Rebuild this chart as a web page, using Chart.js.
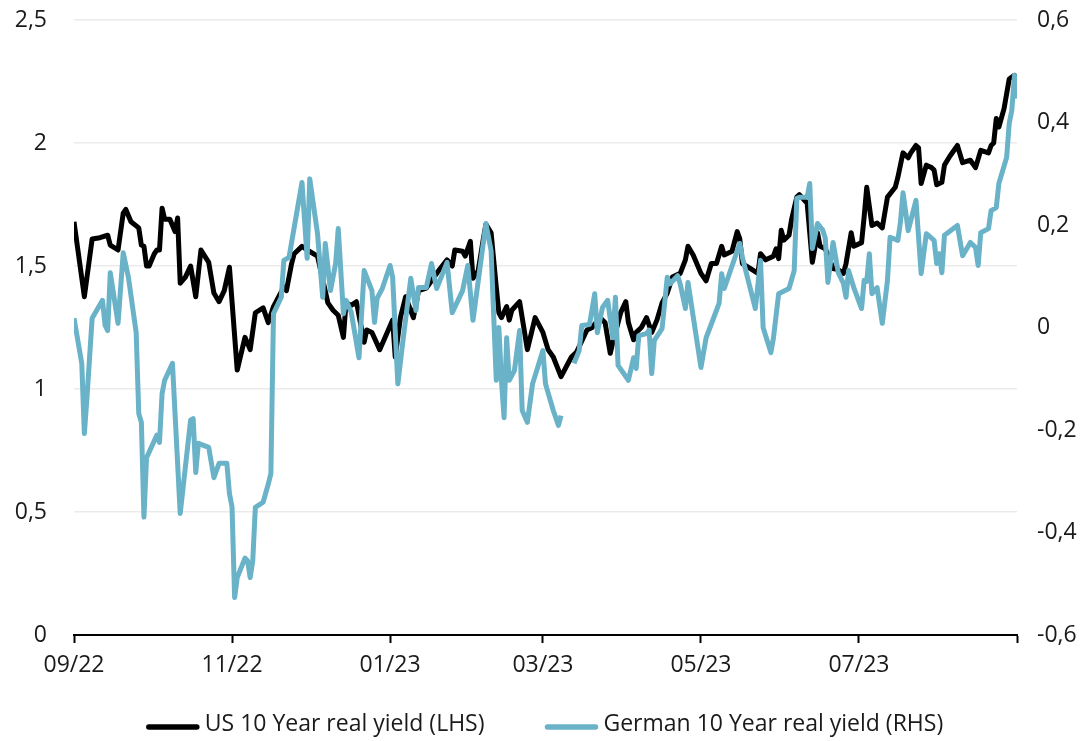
<!DOCTYPE html>
<html><head><meta charset="utf-8">
<script src="https://cdn.jsdelivr.net/npm/chart.js@4/dist/chart.umd.min.js"></script>
<style>html,body{margin:0;padding:0;background:#fff;overflow:hidden}</style>
</head><body>
<canvas id="c" width="1089" height="741"></canvas>
<script>
// x values are days since 1 Sep 2022
const tickDays = [0, 61, 122, 181, 242, 303, 364];
const tickLabels = ['09/22', '11/22', '01/23', '03/23', '05/23', '07/23', ''];
const seriesNames = ['US 10 Year real yield (LHS)', 'German 10 Year real yield (RHS)'];

const usDays = [0,4,7,10,13,14,17,19,20,22,25,26,27,28,29,31,32,33,34,35,37,39,40,41,43,45,47,49,52,54,56,58,60,63,66,68,70,73,75,77,81,82,84,85,88,90,94,98,100,102,104,105,107,109,112,113,115,118,123,124,126,128,131,133,136,139,141,144,146,147,150,151,153,154,156,158,159,161,163,164,165,167,168,169,172,175,178,181,183,185,188,192,194,198,200,203,205,207,208,211,213,214,216,217,219,221,223,225,227,229,231,234,236,237,239,242,244,246,248,250,251,254,256,257,258,261,264,265,267,270,271,272,273,274,276,277,279,280,283,284,285,287,288,290,293,295,297,298,300,301,304,305,306,308,310,312,314,317,318,320,322,323,325,326,327,329,331,332,333,335,336,338,341,343,346,348,350,353,354,355,356,357,359,361,363,364];
const usYield = [1.68,1.375,1.61,1.615,1.625,1.585,1.565,1.715,1.73,1.68,1.655,1.585,1.58,1.50,1.50,1.55,1.565,1.565,1.735,1.69,1.69,1.64,1.695,1.43,1.455,1.50,1.375,1.565,1.515,1.39,1.355,1.40,1.495,1.077,1.21,1.16,1.31,1.33,1.27,1.335,1.415,1.40,1.51,1.55,1.58,1.565,1.54,1.35,1.32,1.30,1.21,1.35,1.34,1.355,1.19,1.24,1.23,1.16,1.28,1.13,1.29,1.375,1.29,1.40,1.41,1.455,1.485,1.525,1.50,1.565,1.56,1.54,1.60,1.45,1.48,1.61,1.67,1.635,1.415,1.31,1.29,1.335,1.28,1.32,1.355,1.16,1.29,1.23,1.16,1.13,1.05,1.13,1.15,1.24,1.25,1.29,1.27,1.145,1.19,1.31,1.355,1.27,1.20,1.23,1.25,1.29,1.23,1.28,1.35,1.39,1.455,1.47,1.525,1.58,1.545,1.47,1.44,1.51,1.51,1.58,1.545,1.56,1.64,1.61,1.51,1.49,1.47,1.55,1.525,1.54,1.57,1.53,1.645,1.605,1.625,1.69,1.78,1.79,1.755,1.635,1.515,1.635,1.58,1.57,1.49,1.485,1.47,1.51,1.635,1.58,1.595,1.70,1.82,1.665,1.675,1.655,1.78,1.82,1.86,1.96,1.94,1.96,1.99,1.98,1.835,1.91,1.90,1.89,1.83,1.84,1.91,1.945,1.99,1.92,1.93,1.90,1.97,1.96,1.99,2.00,2.10,2.065,2.14,2.26,2.275,2.23];

const deDays = [0,3,4,5,7,11,12,13,14,17,19,21,24,25,26,27,28,32,33,34,35,38,41,45,46,47,48,52,54,56,59,60,61,62,63,66,67,68,69,70,73,75,76,77,80,81,83,88,90,91,94,96,97,99,101,102,104,105,107,110,112,115,116,117,119,122,123,125,127,130,132,133,136,138,140,144,146,150,152,154,159,161,163,164,165,166,167,168,170,172,173,175,177,181,182,185,187,188,190,193,195,196,199,201,202,204,206,208,209,210,214,216,217,218,221,222,223,224,227,229,230,233,234,236,237,242,244,247,249,250,251,257,258,263,265,266,269,270,272,276,278,279,280,283,284,285,287,289,290,291,293,294,295,297,298,299,301,304,305,306,307,308,310,312,314,315,318,319,320,322,325,327,329,332,333,334,335,336,341,343,346,348,349,350,353,354,356,357,360,361,362,363,364];
const deYield = [0.018,-0.07,-0.207,-0.137,0.018,0.053,0.004,-0.006,0.107,0.008,0.146,0.098,-0.01,-0.168,-0.185,-0.37,-0.254,-0.21,-0.224,-0.129,-0.103,-0.07,-0.363,-0.181,-0.178,-0.283,-0.226,-0.234,-0.293,-0.265,-0.265,-0.324,-0.35,-0.527,-0.488,-0.45,-0.455,-0.488,-0.455,-0.351,-0.341,-0.305,-0.285,0.027,0.059,0.131,0.137,0.283,0.135,0.29,0.183,0.059,0.164,0.072,0.125,0.193,0.027,0.053,0.03,-0.059,0.111,0.072,0.01,0.057,0.076,0.121,0.098,-0.11,-0.025,0.096,0.033,0.078,0.078,0.125,0.076,0.127,0.029,0.072,0.121,0.014,0.203,0.15,-0.103,0.0,-0.103,-0.176,-0.02,-0.103,-0.084,-0.006,-0.162,-0.185,-0.11,-0.045,-0.11,-0.162,-0.191,-0.172,null,-0.07,-0.045,0.004,0.006,0.066,-0.01,0.039,0.053,-0.02,0.059,-0.074,-0.103,-0.059,-0.08,-0.016,-0.012,-0.005,-0.09,-0.025,-0.002,0.098,0.085,0.101,0.085,0.037,0.088,-0.078,-0.02,0.02,0.047,0.105,0.076,0.164,0.137,0.037,0.131,0.0,-0.049,-0.02,0.066,0.076,0.111,0.252,0.254,0.254,0.281,0.154,0.203,0.19,0.174,0.088,0.166,0.137,0.107,0.086,0.059,0.111,0.078,0.037,0.092,0.09,0.144,0.066,0.078,0.008,0.092,0.176,0.17,0.205,0.263,0.189,0.248,0.105,0.183,0.17,0.125,0.144,0.107,0.18,0.199,0.14,0.166,0.156,0.121,0.185,0.193,0.228,0.234,0.281,0.332,0.398,0.424,0.492,0.447];

const FONT = "'Open Sans'";
const FS = 23;
const TXT = '#1a1a1a';
const BLUE = '#69b2c8';

function fmt(v) {
  if (Math.abs(v) < 1e-9) return '0';
  let s = (Math.round(v * 10) / 10).toString();
  return s.replace('.', ',');
}

function fixPad(s) {
  s.paddingTop = 0; s.paddingBottom = 0; s.paddingLeft = 0; s.paddingRight = 0;
}

const legendPlugin = {
  id: 'simpleLegend',
  afterDraw(chart) {
    const ctx = chart.ctx;
    ctx.save();
    ctx.font = FS + 'px ' + FONT;
    const boxW = 54, gap = 5, itemGap = 60;
    const items = chart.data.datasets.map(ds => ({
      text: ds.label, color: ds.borderColor,
      w: boxW + gap + ctx.measureText(ds.label).width
    }));
    const total = items.reduce((s, it) => s + it.w, 0) + itemGap * (items.length - 1);
    let x = (chart.width - total) / 2;
    const y = 724;
    items.forEach(it => {
      ctx.strokeStyle = it.color;
      ctx.lineWidth = 5.5;
      ctx.lineCap = 'round';
      ctx.beginPath();
      ctx.moveTo(x + 3, y + 3);
      ctx.lineTo(x + boxW - 3, y + 3);
      ctx.stroke();
      ctx.fillStyle = TXT;
      ctx.textBaseline = 'middle';
      ctx.textAlign = 'left';
      ctx.fillText(it.text, x + boxW + gap, y);
      x += it.w + itemGap;
    });
    ctx.restore();
  }
};

new Chart(document.getElementById('c'), {
  type: 'line',
  data: {
    datasets: [
      {
        label: seriesNames[0],
        data: usDays.map((d, i) => ({x: d, y: usYield[i]})),
        borderColor: '#000000', backgroundColor: '#000000',
        borderWidth: 5, pointRadius: 0, tension: 0,
        borderJoinStyle: 'round', yAxisID: 'yL', order: 2
      },
      {
        label: seriesNames[1],
        data: deDays.map((d, i) => ({x: d, y: deYield[i]})),
        borderColor: BLUE, backgroundColor: BLUE,
        borderWidth: 5, pointRadius: 0, tension: 0,
        borderJoinStyle: 'round', yAxisID: 'yR', order: 1, spanGaps: false
      }
    ]
  },
  options: {
    responsive: false, animation: false, devicePixelRatio: 1,
    layout: {padding: {top: 20, bottom: 56, left: 0, right: 0}},
    plugins: {legend: {display: false}, tooltip: {enabled: false}},
    font: {family: FONT, size: FS},
    scales: {
      x: {
        type: 'linear', min: 0, max: 364,
        afterBuildTicks: s => { s.ticks = tickDays.map(v => ({value: v})); },
        afterFit: s => { s.height = 50; fixPad(s); },
        ticks: {
          autoSkip: false, maxRotation: 0, padding: 9, color: TXT,
          font: {family: FONT, size: FS},
          callback: v => { const i = tickDays.indexOf(v); return i >= 0 ? tickLabels[i] : ''; }
        },
        grid: {display: true, drawOnChartArea: false, drawTicks: true, tickLength: 8, tickColor: '#000', tickWidth: 2},
        border: {display: true, color: '#000', width: 2}
      },
      yL: {
        type: 'linear', position: 'left', min: 0, max: 2.5,
        afterFit: s => { s.width = 74; fixPad(s); },
        ticks: {stepSize: 0.5, padding: 27, color: TXT, font: {family: FONT, size: FS}, callback: v => fmt(v)},
        grid: {color: '#ebebeb', lineWidth: 1.5, drawTicks: false},
        border: {display: false}
      },
      yR: {
        type: 'linear', position: 'right', min: -0.6, max: 0.6,
        afterFit: s => { s.width = 72; fixPad(s); },
        ticks: {stepSize: 0.2, padding: 20, color: TXT, font: {family: FONT, size: FS}, callback: v => fmt(v)},
        grid: {display: false, drawTicks: false},
        border: {display: false}
      }
    }
  },
  plugins: [legendPlugin]
});
</script>
</body></html>
